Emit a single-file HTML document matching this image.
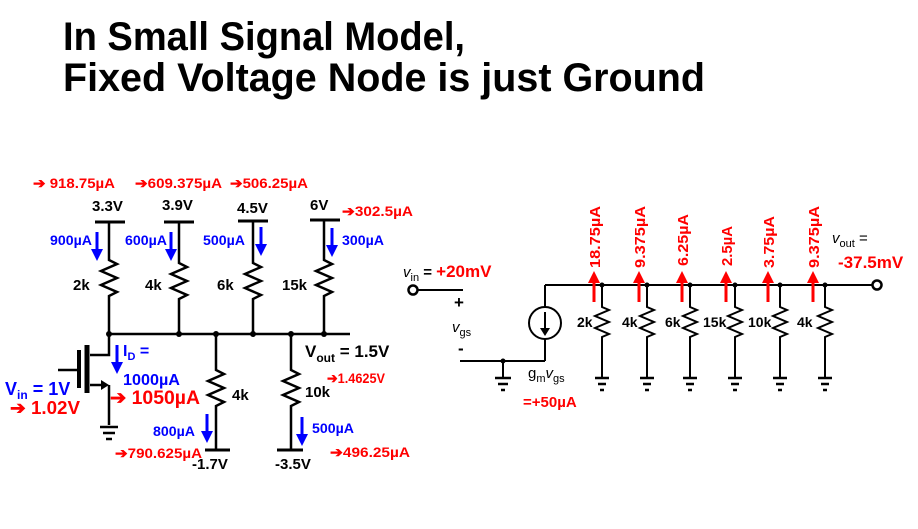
<!DOCTYPE html>
<html><head><meta charset="utf-8"><style>
html,body{margin:0;padding:0;background:#fff;}
svg{display:block;font-family:"Liberation Sans",Arial,sans-serif;font-weight:bold;}
</style></head><body>
<svg width="918" height="529" viewBox="0 0 918 529" xmlns="http://www.w3.org/2000/svg">
<defs>
<marker id="ab" markerWidth="4" markerHeight="4" refX="2" refY="2" orient="auto" markerUnits="strokeWidth"><path d="M0,0 L4,2 L0,4 z" fill="#0000ff"/></marker>
<marker id="ar" markerWidth="4" markerHeight="4" refX="2" refY="2" orient="auto" markerUnits="strokeWidth"><path d="M0,0 L4,2 L0,4 z" fill="#ff0000"/></marker>
</defs>
<text x="63" y="50" font-size="40" textLength="402" lengthAdjust="spacingAndGlyphs">In Small Signal Model,</text>
<text x="63" y="91" font-size="40" textLength="642" lengthAdjust="spacingAndGlyphs">Fixed Voltage Node is just Ground</text>

<g stroke="#000" stroke-width="2.5" fill="none">
<line x1="95" y1="222" x2="125" y2="222" stroke-width="3"/>
<line x1="164" y1="222" x2="194" y2="222" stroke-width="3"/>
<line x1="238" y1="221" x2="268" y2="221" stroke-width="3"/>
<line x1="310" y1="220" x2="340" y2="220" stroke-width="3"/>
<path d="M109,222 V260 l8,4 l-16,7 l16,7 l-16,7 l16,7 l-8,4 V355 H90"/>
<path d="M179,222 V263 l8,4 l-16,7 l16,7 l-16,7 l16,7 l-8,4 V334"/>
<path d="M253,221 V263 l8,4 l-16,7 l16,7 l-16,7 l16,7 l-8,4 V334"/>
<path d="M324,220 V260 l8,4 l-16,7 l16,7 l-16,7 l16,7 l-8,4 V334"/>
<line x1="109" y1="334" x2="350" y2="334"/>
<path d="M216,334 V370 l8,4 l-16,7 l16,7 l-16,7 l16,7 l-8,4 V450"/>
<line x1="205" y1="450" x2="230" y2="450" stroke-width="3"/>
<path d="M291,334 V370 l8,4 l-16,7 l16,7 l-16,7 l16,7 l-8,4 V450"/>
<line x1="277" y1="450" x2="303" y2="450" stroke-width="3"/>
<line x1="87" y1="345" x2="87" y2="393" stroke-width="5"/>
<line x1="79" y1="350" x2="79" y2="388" stroke-width="4"/>
<line x1="58" y1="370" x2="79" y2="370"/>
<path d="M90,385 H104 M109,385 V425"/>
<line x1="100" y1="427" x2="118" y2="427"/>
<line x1="103" y1="433" x2="115" y2="433"/>
<line x1="106" y1="439" x2="112" y2="439"/>
</g>
<path d="M101,380 L109,385 L101,390 z" fill="#000"/>
<g fill="#000">
<circle cx="109" cy="334" r="3"/><circle cx="179" cy="334" r="3"/><circle cx="216" cy="334" r="3"/>
<circle cx="253" cy="334" r="3"/><circle cx="291" cy="334" r="3"/><circle cx="324" cy="334" r="3"/>
</g>

<g font-size="15" fill="#000">
<text x="92" y="211">3.3V</text><text x="162" y="210">3.9V</text>
<text x="237" y="213">4.5V</text><text x="310" y="210">6V</text>
<text x="73" y="290">2k</text><text x="145" y="290">4k</text>
<text x="217" y="290">6k</text><text x="282" y="290">15k</text>
<text x="232" y="400">4k</text><text x="305" y="397">10k</text>
<text x="192" y="469">-1.7V</text><text x="275" y="469">-3.5V</text>
<text x="305" y="357" font-size="17">V<tspan font-size="12" dy="5">out</tspan><tspan dy="-5"> = 1.5V</tspan></text>
</g>

<g fill="#ff0000" font-size="14">
<text x="33" y="188" textLength="82" lengthAdjust="spacingAndGlyphs">➔ 918.75µA</text>
<text x="135" y="188" textLength="87" lengthAdjust="spacingAndGlyphs">➔609.375µA</text>
<text x="230" y="188" textLength="78" lengthAdjust="spacingAndGlyphs">➔506.25µA</text>
<text x="342" y="216" textLength="71" lengthAdjust="spacingAndGlyphs">➔302.5µA</text>
<text x="327" y="383" textLength="58" lengthAdjust="spacingAndGlyphs">➔1.4625V</text>
<text x="330" y="457" textLength="80" lengthAdjust="spacingAndGlyphs">➔496.25µA</text>
<text x="115" y="458" textLength="87" lengthAdjust="spacingAndGlyphs">➔790.625µA</text>
<text x="10" y="414" font-size="18" textLength="70" lengthAdjust="spacingAndGlyphs">➔ 1.02V</text>
<text x="110" y="404" font-size="19" textLength="90" lengthAdjust="spacingAndGlyphs">➔ 1050µA</text>
</g>
<g fill="#0000ff" font-size="14">
<text x="50" y="245" textLength="42" lengthAdjust="spacingAndGlyphs">900µA</text><text x="125" y="245" textLength="42" lengthAdjust="spacingAndGlyphs">600µA</text>
<text x="203" y="245" textLength="42" lengthAdjust="spacingAndGlyphs">500µA</text><text x="342" y="245" textLength="42" lengthAdjust="spacingAndGlyphs">300µA</text>
<text x="153" y="436" textLength="42" lengthAdjust="spacingAndGlyphs">800µA</text><text x="312" y="433" textLength="42" lengthAdjust="spacingAndGlyphs">500µA</text>
<text x="123" y="356" font-size="16">I<tspan font-size="11" dy="4">D</tspan><tspan dy="-4"> =</tspan></text>
<text x="123" y="385" font-size="16" textLength="57" lengthAdjust="spacingAndGlyphs">1000µA</text>
<text x="5" y="395" font-size="18">V<tspan font-size="12" dy="4">in</tspan><tspan dy="-4"> = 1V</tspan></text>
</g>
<g stroke="#0000ff" stroke-width="3">
<line x1="97" y1="232" x2="97" y2="255" marker-end="url(#ab)"/>
<line x1="171" y1="232" x2="171" y2="255" marker-end="url(#ab)"/>
<line x1="261" y1="227" x2="261" y2="250" marker-end="url(#ab)"/>
<line x1="332" y1="228" x2="332" y2="251" marker-end="url(#ab)"/>
<line x1="117" y1="345" x2="117" y2="368" marker-end="url(#ab)"/>
<line x1="207" y1="414" x2="207" y2="437" marker-end="url(#ab)"/>
<line x1="302" y1="417" x2="302" y2="440" marker-end="url(#ab)"/>
</g>

<g stroke="#000" stroke-width="2" fill="none">
<circle cx="413" cy="290" r="4.5" stroke-width="2.5"/>
<line x1="418" y1="290" x2="463" y2="290"/>
<line x1="460" y1="361" x2="545" y2="361"/>
<path d="M503,361 V377"/>
<path d="M545,285 V307 M545,339 V361"/>
<circle cx="545" cy="323" r="16"/>
<line x1="545" y1="285" x2="872" y2="285"/>
<circle cx="877" cy="285" r="4.5" stroke-width="2.5"/>
</g>
<path d="M545,312 V330" stroke="#000" stroke-width="2"/>
<path d="M540,328 L545,336 L550,328 z" fill="#000"/>
<g stroke="#000" stroke-width="2.5">
<line x1="495" y1="378" x2="511" y2="378"/><line x1="498" y1="384" x2="508" y2="384"/><line x1="501" y1="390" x2="505" y2="390"/>
</g>
<g stroke="#000" stroke-width="2" fill="none">
<path d="M602,285 V307 l7,3 l-14,6 l14,6 l-14,6 l14,6 l-7,3 V377"/>
<path d="M647,285 V307 l7,3 l-14,6 l14,6 l-14,6 l14,6 l-7,3 V377"/>
<path d="M690,285 V307 l7,3 l-14,6 l14,6 l-14,6 l14,6 l-7,3 V377"/>
<path d="M735,285 V307 l7,3 l-14,6 l14,6 l-14,6 l14,6 l-7,3 V377"/>
<path d="M780,285 V307 l7,3 l-14,6 l14,6 l-14,6 l14,6 l-7,3 V377"/>
<path d="M825,285 V307 l7,3 l-14,6 l14,6 l-14,6 l14,6 l-7,3 V377"/>
</g>
<g stroke="#000" stroke-width="2.5">
<path d="M595,378 h14 M598,384 h8 M600,390 h4"/>
<path d="M640,378 h14 M643,384 h8 M645,390 h4"/>
<path d="M683,378 h14 M686,384 h8 M688,390 h4"/>
<path d="M728,378 h14 M731,384 h8 M733,390 h4"/>
<path d="M773,378 h14 M776,384 h8 M778,390 h4"/>
<path d="M818,378 h14 M821,384 h8 M823,390 h4"/>
</g>
<g fill="#000">
<circle cx="503" cy="361" r="2.5"/><circle cx="602" cy="285" r="2.5"/><circle cx="647" cy="285" r="2.5"/>
<circle cx="690" cy="285" r="2.5"/><circle cx="735" cy="285" r="2.5"/><circle cx="780" cy="285" r="2.5"/><circle cx="825" cy="285" r="2.5"/>
</g>
<g font-size="14" fill="#000">
<text x="577" y="327">2k</text><text x="622" y="327">4k</text><text x="665" y="327">6k</text>
<text x="703" y="327">15k</text><text x="748" y="327">10k</text><text x="797" y="327">4k</text>
<text x="454" y="308" font-size="17">+</text>
<text x="458" y="354" font-size="17">-</text>
<text x="452" y="332" font-size="15" font-weight="normal" font-style="italic">v<tspan font-size="11" dy="4" font-style="normal">gs</tspan></text>
<text x="528" y="378" font-size="15" font-weight="normal">g<tspan font-size="11" dy="4">m</tspan><tspan dy="-4" font-style="italic">v</tspan><tspan font-size="11" dy="4">gs</tspan></text>
<text x="403" y="277" font-size="15" font-weight="normal"><tspan font-style="italic">v</tspan><tspan font-size="11" dy="4">in</tspan><tspan dy="-4" font-weight="bold"> = </tspan><tspan fill="#ff0000" font-weight="bold" font-size="17">+20mV</tspan></text>
<text x="832" y="243" font-size="15" font-weight="normal"><tspan font-style="italic">v</tspan><tspan font-size="11" dy="4">out</tspan><tspan dy="-4"> =</tspan></text>
</g>
<text x="838" y="268" font-size="17" fill="#ff0000">-37.5mV</text>
<text x="523" y="407" font-size="15" fill="#ff0000">=+50µA</text>
<g stroke="#ff0000" stroke-width="3">
<line x1="594" y1="302" x2="594" y2="277" marker-end="url(#ar)"/>
<line x1="639" y1="302" x2="639" y2="277" marker-end="url(#ar)"/>
<line x1="682" y1="302" x2="682" y2="277" marker-end="url(#ar)"/>
<line x1="726" y1="302" x2="726" y2="277" marker-end="url(#ar)"/>
<line x1="768" y1="302" x2="768" y2="277" marker-end="url(#ar)"/>
<line x1="813" y1="302" x2="813" y2="277" marker-end="url(#ar)"/>
</g>
<g fill="#ff0000" font-size="15">
<text transform="translate(600,268) rotate(-90)" textLength="62" lengthAdjust="spacingAndGlyphs">18.75µA</text>
<text transform="translate(645,268) rotate(-90)" textLength="62" lengthAdjust="spacingAndGlyphs">9.375µA</text>
<text transform="translate(688,266) rotate(-90)" textLength="52" lengthAdjust="spacingAndGlyphs">6.25µA</text>
<text transform="translate(732,266) rotate(-90)" textLength="40" lengthAdjust="spacingAndGlyphs">2.5µA</text>
<text transform="translate(774,268) rotate(-90)" textLength="52" lengthAdjust="spacingAndGlyphs">3.75µA</text>
<text transform="translate(819,268) rotate(-90)" textLength="62" lengthAdjust="spacingAndGlyphs">9.375µA</text>
</g>
</svg>
</body></html>
